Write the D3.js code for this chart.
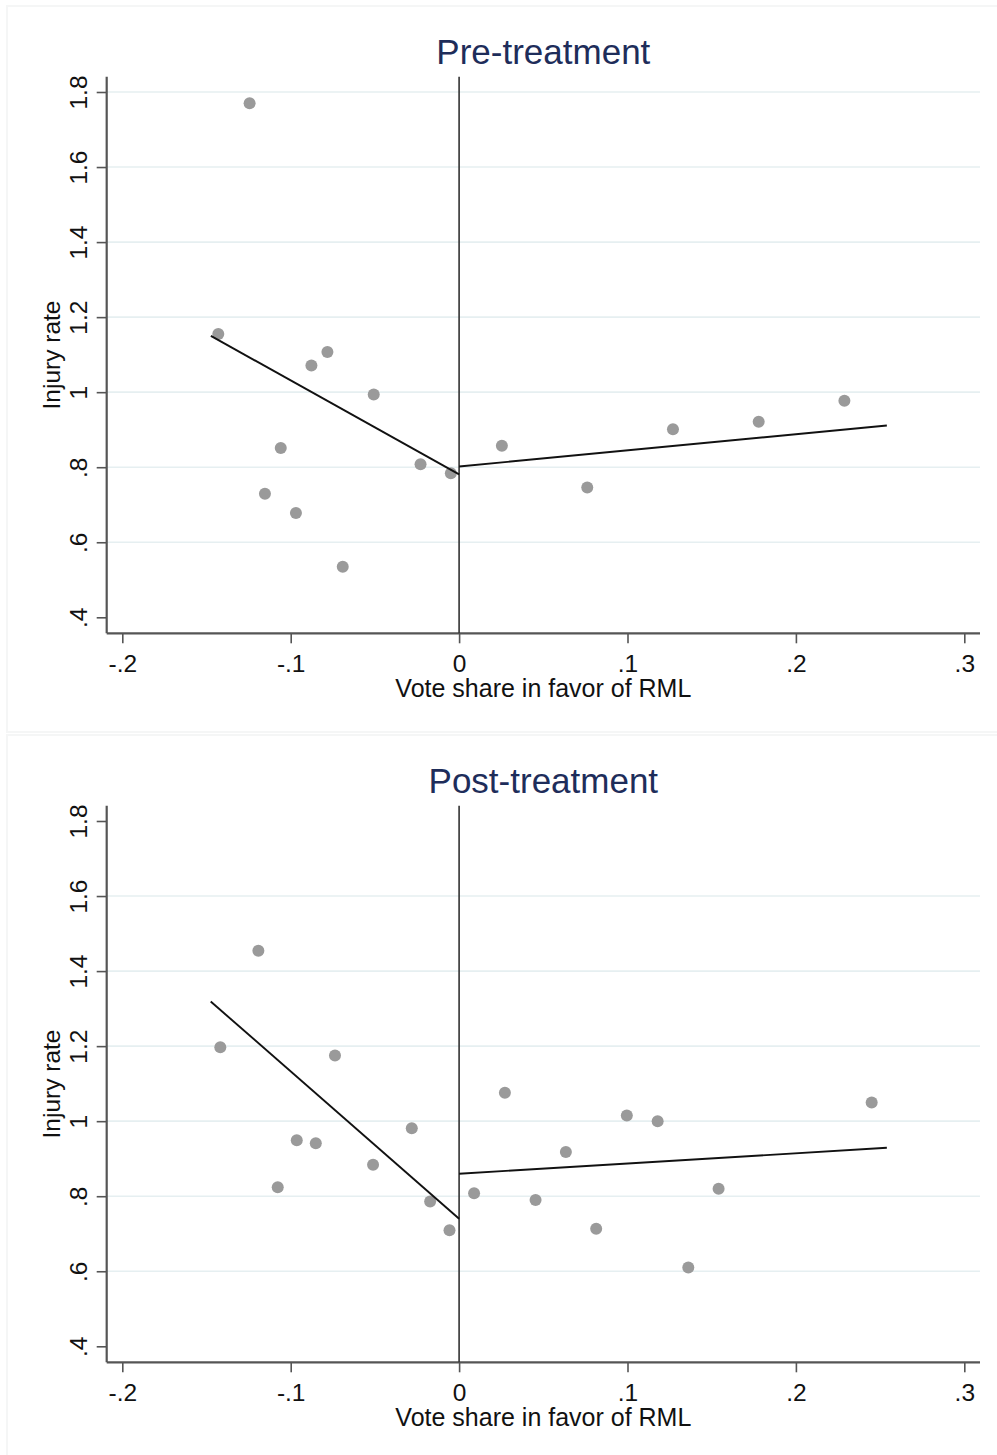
<!DOCTYPE html>
<html>
<head>
<meta charset="utf-8">
<script src="https://cdn.jsdelivr.net/npm/d3@7"></script>
<style>
  html, body { margin: 0; padding: 0; background: #ffffff; }
  svg { display: block; font-family: "Liberation Sans", Arial, Helvetica, sans-serif; }
</style>
</head>
<body>
<svg id="chart" width="997" height="1455"></svg>
<script>
// Axis ticks
const xTicks = [-0.2, -0.1, 0, 0.1, 0.2, 0.3];
const xTickLabels = ["-.2", "-.1", "0", ".1", ".2", ".3"];
const yTicks = [0.4, 0.6, 0.8, 1.0, 1.2, 1.4, 1.6, 1.8];
const yTickLabels = [".4", ".6", ".8", "1", "1.2", "1.4", "1.6", "1.8"];

// Binned means, pre-treatment period
const preX = [-0.1244, -0.1430, -0.0782, -0.0877, -0.0507, -0.1059, -0.0229, -0.0049,
              -0.1153, -0.0969, -0.0691, 0.0254, 0.0761, 0.1270, 0.1779, 0.2288];
const preY = [1.770, 1.155, 1.107, 1.071, 0.994, 0.851, 0.808, 0.784,
              0.729, 0.678, 0.535, 0.857, 0.746, 0.901, 0.921, 0.977];
// Linear fits either side of the cutoff: [x0, y0, x1, y1]
const preFitLeft = [-0.1474, 1.150, 0, 0.781];
const preFitRight = [0, 0.802, 0.254, 0.911];
const preGrid = [0.6, 0.8, 1.0, 1.2, 1.4, 1.6, 1.8];

// Binned means, post-treatment period
const postX = [-0.1192, -0.1418, -0.0737, -0.0964, -0.0851, -0.0281, -0.0511, -0.1077,
               -0.0172, -0.0057, 0.0089, 0.0272, 0.0996, 0.1179, 0.0634, 0.0454,
               0.0814, 0.1361, 0.1541, 0.2450];
const postY = [1.454, 1.197, 1.175, 0.949, 0.941, 0.981, 0.884, 0.824,
               0.786, 0.709, 0.808, 1.076, 1.015, 1.000, 0.918, 0.790,
               0.713, 0.610, 0.820, 1.050];
const postFitLeft = [-0.1475, 1.319, 0, 0.740];
const postFitRight = [0, 0.860, 0.254, 0.929];
const postGrid = [0.6, 0.8, 1.0, 1.2, 1.4, 1.6];

const panels = [
  { title: "Pre-treatment", xs: preX, ys: preY, fits: [preFitLeft, preFitRight], grid: preGrid, top: 0 },
  { title: "Post-treatment", xs: postX, ys: postY, fits: [postFitLeft, postFitRight], grid: postGrid, top: 729 }
];

const svg = d3.select("#chart");

// Plot region within each panel
const plotLeft = 106.7, plotRight = 980, plotTop = 76.7, plotBottom = 633.3;

const x = d3.scaleLinear().domain([-0.2, 0.3]).range([122.3, 964.3]);
const y = d3.scaleLinear().domain([0.4, 1.8]).range([617.3, 92]);

// Faint panel frames
svg.append("rect").attr("x", 7).attr("y", 6).attr("width", 992).attr("height", 726)
  .attr("fill", "none").attr("stroke", "#f5f6f6").attr("stroke-width", 2);
svg.append("rect").attr("x", 7).attr("y", 735).attr("width", 992).attr("height", 722)
  .attr("fill", "none").attr("stroke", "#f5f6f6").attr("stroke-width", 2);

panels.forEach(p => {
  const g = svg.append("g").attr("transform", `translate(0,${p.top})`);

  // horizontal grid
  g.append("g").selectAll("line").data(p.grid).join("line")
    .attr("x1", plotLeft).attr("x2", plotRight)
    .attr("y1", d => y(d)).attr("y2", d => y(d))
    .attr("stroke", "#e6eff1").attr("stroke-width", 1.6);

  // title
  g.append("text")
    .attr("x", (plotLeft + plotRight) / 2).attr("y", 64)
    .attr("text-anchor", "middle")
    .attr("font-size", 35).attr("fill", "#1e2d5a")
    .text(p.title);

  // y axis
  const yAxis = d3.axisLeft(y).tickValues(yTicks)
    .tickFormat((d, i) => yTickLabels[i]).tickSize(10).tickSizeOuter(0);
  const ya = g.append("g").attr("transform", `translate(${plotLeft},0)`).call(yAxis);
  ya.select(".domain").remove();
  ya.selectAll(".tick line").attr("stroke", "#555").attr("stroke-width", 1.6);
  ya.selectAll(".tick text")
    .attr("x", null).attr("dy", null)
    .attr("transform", d => `translate(${87 - plotLeft},0) rotate(-90)`)
    .attr("text-anchor", "middle")
    .attr("font-size", 24.5).attr("fill", "#111")
    .attr("font-family", "Liberation Sans, Arial, sans-serif");
  g.append("line").attr("x1", plotLeft).attr("x2", plotLeft)
    .attr("y1", plotTop).attr("y2", plotBottom)
    .attr("stroke", "#555").attr("stroke-width", 2.2);

  // x axis
  const xAxis = d3.axisBottom(x).tickValues(xTicks)
    .tickFormat((d, i) => xTickLabels[i]).tickSize(10).tickSizeOuter(0);
  const xa = g.append("g").attr("transform", `translate(0,${plotBottom})`).call(xAxis);
  xa.select(".domain").remove();
  xa.selectAll(".tick line").attr("stroke", "#555").attr("stroke-width", 1.6);
  xa.selectAll(".tick text")
    .attr("y", 38.5).attr("dy", null)
    .attr("font-size", 24.5).attr("fill", "#111")
    .attr("font-family", "Liberation Sans, Arial, sans-serif");
  g.append("line").attr("x1", plotLeft).attr("x2", plotRight)
    .attr("y1", plotBottom).attr("y2", plotBottom)
    .attr("stroke", "#555").attr("stroke-width", 2.2);

  // axis titles
  g.append("text")
    .attr("x", (plotLeft + plotRight) / 2).attr("y", 697)
    .attr("text-anchor", "middle").attr("font-size", 25).attr("fill", "#111")
    .text("Vote share in favor of RML");
  g.append("text")
    .attr("transform", `translate(60,${(plotTop + plotBottom) / 2}) rotate(-90)`)
    .attr("text-anchor", "middle").attr("font-size", 24.5).attr("fill", "#111")
    .text("Injury rate");

  // cutoff line
  g.append("line").attr("x1", x(0)).attr("x2", x(0))
    .attr("y1", plotTop).attr("y2", plotBottom)
    .attr("stroke", "#333").attr("stroke-width", 1.6);

  // points
  const pts = p.xs.map((v, i) => [v, p.ys[i]]);
  g.append("g").selectAll("circle").data(pts).join("circle")
    .attr("cx", d => x(d[0])).attr("cy", d => y(d[1])).attr("r", 6)
    .attr("fill", "#9a9a9a");

  // fitted lines
  g.append("g").selectAll("line").data(p.fits).join("line")
    .attr("x1", d => x(d[0])).attr("y1", d => y(d[1]))
    .attr("x2", d => x(d[2])).attr("y2", d => y(d[3]))
    .attr("stroke", "#111").attr("stroke-width", 1.9);
});
</script>
</body>
</html>
